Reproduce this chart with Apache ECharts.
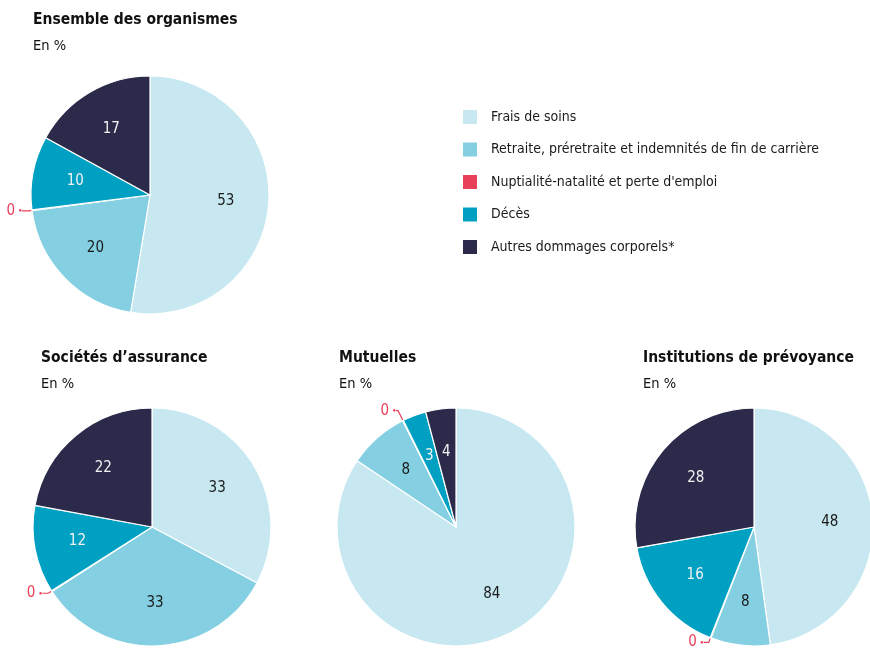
<!DOCTYPE html>
<html><head><meta charset="utf-8">
<script src="https://cdn.jsdelivr.net/npm/echarts@6/dist/echarts.min.js"></script>
<style>html,body{margin:0;padding:0;background:#fff}#c{width:870px;height:653px}</style>
</head><body><div id="c"></div>
<script>
const categories = ['Frais de soins', 'Retraite, préretraite et indemnités de fin de carrière', "Nuptialité-natalité et perte d'emploi", 'Décès', 'Autres dommages corporels*'];
const ensembleValues = [52.6, 20.3, 0.1, 10.0, 17.0];
const societesValues = [32.8, 33.1, 0.1, 11.9, 22.1];
const mutuellesValues = [84.4, 8.2, 0.1, 3.2, 4.1];
const institutionsValues = [47.8, 8.1, 0.1, 16.2, 27.8];
const panelTitles = ['Ensemble des organismes', 'Sociétés d’assurance', 'Mutuelles', 'Institutions de prévoyance'];
const unitLabel = 'En %';

const colors = ['#c7e8f1', '#84cfe1', '#e8405a', '#00a0c2', '#2b2a4a'];
const labelColors = ['#1a1a1a', '#1a1a1a', '#e8405a', '#f2f2f2', '#f2f2f2'];
const FONT = "'DejaVu Sans Condensed', 'Liberation Sans Narrow', sans-serif";

const panels = [
  {values: ensembleValues, center: [150, 195], title: {left: 33, top: 12}, zeroLine: [4, 6]},
  {values: societesValues, center: [152, 527], title: {left: 41, top: 350}, zeroLine: [4, 6]},
  {values: mutuellesValues, center: [456, 527], title: {left: 339, top: 350}, zeroLine: [11, 2]},
  {values: institutionsValues, center: [754, 527], title: {left: 643, top: 350}, zeroLine: [5, 5]}
];
const R = 119;

const series = [];
const titles = [];
panels.forEach((p, pi) => {
  titles.push({
    text: panelTitles[pi], subtext: unitLabel,
    left: p.title.left, top: p.title.top, itemGap: 11, padding: 0,
    textStyle: {fontFamily: FONT, fontSize: 15.5, fontWeight: 'bold', color: '#111'},
    subtextStyle: {fontFamily: FONT, fontSize: 14.5, color: '#111'}
  });
  series.push({
    type: 'pie', center: p.center, radius: [0, R], startAngle: 90, clockwise: true,
    avoidLabelOverlap: false, animation: false,
    itemStyle: {borderColor: '#fff', borderWidth: 1.2},
    label: {show: false},
    labelLine: {show: false},
    emphasis: {disabled: true},
    data: categories.map((c, i) => {
      const zero = Math.round(p.values[i]) === 0;
      return {
        name: c, value: p.values[i], itemStyle: {color: colors[i]},
        label: zero ? {
          show: true, position: 'outside', distanceToLabelLine: 0,
          formatter: () => '{n|' + Math.round(p.values[i]) + '} {d|●}',
          rich: {n: {fontFamily: FONT, fontSize: 15, color: '#e8405a'}, d: {fontSize: 6, color: '#e8405a'}}
        } : {show: false},
        labelLine: zero ? {show: true, length: p.zeroLine[0], length2: p.zeroLine[1], lineStyle: {color: '#e8405a', width: 1.2}} : {show: false}
      };
    })
  });
  series.push({
    type: 'pie', center: p.center, radius: [27, R], startAngle: 90, clockwise: true,
    silent: true, animation: false, avoidLabelOverlap: false,
    itemStyle: {color: 'rgba(0,0,0,0)', borderWidth: 0},
    labelLine: {show: false},
    emphasis: {disabled: true},
    data: categories.map((c, i) => ({
      name: c, value: p.values[i],
      itemStyle: {color: 'rgba(0,0,0,0)'},
      label: {
        show: Math.round(p.values[i]) !== 0, position: 'inside',
        formatter: () => String(Math.round(p.values[i])),
        fontFamily: FONT, fontSize: 15, color: labelColors[i]
      }
    }))
  });
});

const chart = echarts.init(document.getElementById('c'), null, {renderer: 'canvas'});
chart.setOption({
  animation: false,
  backgroundColor: '#fff',
  title: titles,
  legend: {
    data: categories, orient: 'vertical', left: 461, top: 108, padding: 0,
    icon: 'rect', itemWidth: 16, itemHeight: 16, itemGap: 14.5,
    selectedMode: false,
    textStyle: {fontFamily: FONT, fontSize: 14, color: '#1a1a1a', padding: [0, 0, 0, 8]}
  },
  series: series
});
</script></body></html>
